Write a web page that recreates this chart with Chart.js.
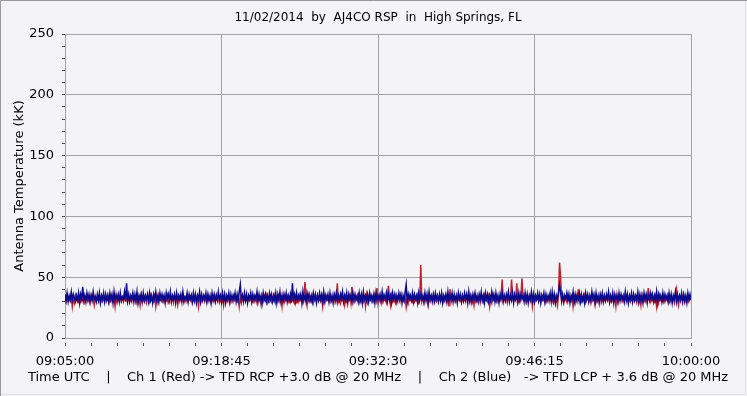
<!DOCTYPE html>
<html>
<head>
<meta charset="utf-8">
<script src="https://cdn.jsdelivr.net/npm/chart.js@4"></script>
<style>
  html, body { margin: 0; padding: 0; background: #f4f4f6; }
  #wrap { width: 747px; height: 396px; }
</style>
</head>
<body>
<div id="wrap"><canvas id="chart" width="747" height="396"></canvas></div>
<script>
// Radio telescope strip chart - two channels of antenna temperature (kK)

const chartTitle = "11/02/2014  by  AJ4CO RSP  in  High Springs, FL";
const yTitle = "Antenna Temperature (kK)";
const xTitle = "Time UTC    |    Ch 1 (Red) -> TFD RCP +3.0 dB @ 20 MHz    |    Ch 2 (Blue)   -> TFD LCP + 3.6 dB @ 20 MHz";

// x tick labels (seconds after 09:05:00)
const timeLabels = ["09:05:00", "09:18:45", "09:32:30", "09:46:15", "10:00:00"];
const timeTicks = [0, 825, 1650, 2475, 3300];
const sampleStep = 5.5; // seconds between samples

// Ch 2 (Blue) - LCP
const ch2Blue = [
  36,31,37,30,35,32,38,31,36,33,30,35,31,37,29,36,32,42,31,35,
  30,37,32,36,30,35,31,38,32,34,30,36,31,37,29,35,32,37,30,36,
  31,35,30,37,32,36,29,38,31,35,32,36,30,37,31,34,32,38,30,45,
  31,36,30,35,32,37,30,36,31,38,29,35,32,36,30,37,31,35,32,36,
  30,37,31,35,29,36,32,38,31,35,30,37,32,36,31,35,29,37,32,36,
  31,38,30,35,32,36,29,37,31,35,32,36,30,38,31,34,32,37,30,36,
  32,35,30,37,31,36,29,35,32,38,30,36,31,35,32,37,30,36,31,35,
  29,37,32,36,30,35,31,38,32,35,30,37,31,36,29,35,32,37,30,36,
  31,35,32,37,30,36,31,38,44,32,35,30,37,31,36,29,35,32,37,30,
  36,31,35,32,38,30,36,31,35,29,37,32,36,30,35,31,37,32,36,30,
  35,31,37,29,36,32,38,30,35,31,36,32,37,30,35,31,36,29,45,32,
  36,30,37,31,35,32,36,29,38,31,35,30,37,32,36,31,35,30,37,32,
  36,29,35,31,37,32,36,30,38,31,35,32,36,30,37,31,35,29,36,32,
  37,30,35,31,36,32,38,30,35,31,37,29,36,32,35,30,37,31,36,32,
  35,30,37,31,36,29,38,32,35,31,36,30,37,32,35,31,36,29,37,31,
  35,32,36,30,38,31,35,32,37,30,36,31,35,29,37,32,36,30,35,31,
  37,32,36,29,35,31,38,44,30,36,32,35,31,37,30,36,32,35,29,37,
  31,36,32,35,30,37,31,36,29,38,32,35,30,36,31,37,32,35,30,36,
  31,37,29,35,32,36,30,38,31,35,32,37,30,36,31,35,29,37,32,36,
  30,35,31,37,32,36,29,38,31,35,30,36,32,37,31,35,30,36,32,38,
  31,35,29,37,32,36,30,35,31,38,32,36,30,37,31,35,29,36,32,37,
  30,35,31,36,32,38,30,35,31,37,29,36,32,35,30,37,31,36,32,35,
  30,37,31,36,29,35,32,38,31,36,30,35,32,37,31,36,29,35,32,37,
  30,36,31,35,32,37,30,38,31,36,29,35,32,37,44,38,31,36,30,35,
  32,37,31,36,29,35,32,38,30,36,31,35,32,37,30,36,31,35,29,37,
  32,36,30,35,31,38,32,36,30,37,31,35,29,36,32,37,30,35,31,36,
  32,38,30,35,31,37,29,36,32,35,30,37,31,36,32,35,30,38,31,36,
  29,35,32,37,30,36,31,35,32,38,30,36,31,35,29,37,32,36,30,35,
  31,37,32,36,30,35,31,38,29,36,32,35,30,37,31,36,32,35,30,37,
  31,36,29,35,32,38,30,36,31,35,32,37,30,36,31,35,29,37,32,36,
  31
];

// Ch 1 (Red) - RCP
const ch1Red = [
  33,30,35,31,32,30,34,26,33,29,35,31,32,30,34,30,33,31,35,29,
  31,34,30,33,29,35,31,32,27,34,30,33,31,35,29,32,30,34,30,33,
  31,35,29,32,30,34,30,33,26,35,29,32,31,34,30,33,30,35,31,32,
  29,34,30,33,30,35,31,32,29,34,29,33,27,35,30,32,30,34,29,33,
  33,30,35,31,32,30,34,26,33,29,35,31,32,30,34,30,33,31,35,29,
  31,34,30,33,29,35,31,32,27,34,30,33,31,35,29,32,30,34,30,33,
  31,35,29,32,30,34,30,33,26,35,29,32,31,34,30,33,30,35,31,32,
  29,34,30,33,30,35,31,32,29,34,29,33,27,35,30,32,30,34,29,33,
  33,30,35,31,32,30,34,26,33,29,35,31,32,30,34,30,33,31,35,29,
  31,34,30,33,29,35,31,32,27,34,30,33,31,35,29,32,30,34,30,33,
  31,35,29,32,30,34,30,33,26,35,29,32,31,34,30,33,30,35,31,32,
  29,34,30,33,30,35,31,32,29,34,46,33,27,35,30,32,30,34,29,33,
  33,30,35,31,32,30,34,26,33,29,35,31,32,30,34,30,33,31,35,29,
  31,45,30,33,29,35,31,32,27,34,30,33,31,35,29,42,30,34,30,33,
  31,35,29,32,30,34,30,33,26,35,29,32,31,34,30,33,30,35,31,41,
  29,34,30,33,30,35,31,32,29,34,43,33,27,35,30,32,30,34,29,33,
  33,30,35,31,32,30,34,26,33,29,35,31,32,30,34,30,33,31,35,29,
  31,60,30,33,29,35,31,32,27,34,30,33,31,35,29,32,30,34,30,33,
  31,35,29,32,30,34,30,33,26,40,29,32,31,34,30,33,30,35,31,32,
  29,34,30,33,30,35,31,32,29,34,29,33,27,35,30,32,30,34,29,33,
  33,30,35,31,32,30,34,26,33,29,35,31,32,30,34,30,33,31,35,48,
  31,34,30,33,29,35,31,32,48,34,30,33,31,45,29,32,30,34,49,33,
  31,35,29,32,30,34,30,33,26,35,29,32,31,34,30,33,30,35,31,32,
  29,34,30,33,30,35,31,32,29,34,29,33,27,35,62,50,30,34,29,33,
  33,30,35,31,32,30,34,26,33,29,35,31,40,30,34,30,33,31,35,29,
  31,34,30,33,29,35,31,32,27,34,30,33,31,35,29,32,30,34,30,33,
  31,35,29,32,30,34,30,33,26,35,29,32,31,34,30,33,30,35,31,32,
  29,34,30,33,30,35,31,32,29,34,29,33,27,35,30,32,30,34,29,41,
  33,30,35,31,32,30,34,26,33,29,35,31,32,30,34,30,33,31,35,29,
  31,34,30,33,29,35,40,32,27,34,30,33,31,35,29,32,30,34,30,33,
  32
];

const bgColor = "#f4f4f6";
const gridColor = "#a3a3a3";
const fontFamily = "'DejaVu Sans', Verdana, sans-serif";

function toPoints(values) {
  return values.map((v, i) => ({ x: i * sampleStep, y: v }));
}

// minor x ticks: 5 between each labelled time
const xTickValues = [];
for (let k = 0; k <= 24; k++) xTickValues.push(k * 137.5);

// frame, background, chart title and the x caption line
const framePlugin = {
  id: "frame",
  beforeDraw(chart) {
    const ctx = chart.ctx;
    ctx.save();
    ctx.fillStyle = bgColor;
    ctx.fillRect(0, 0, chart.width, chart.height);
    ctx.strokeStyle = "#9a9a9a";
    ctx.lineWidth = 1;
    ctx.beginPath();
    ctx.moveTo(0.5, chart.height);
    ctx.lineTo(0.5, 0.5);
    ctx.lineTo(chart.width, 0.5);
    ctx.stroke();
    ctx.strokeStyle = "#e2e2e4";
    ctx.beginPath();
    ctx.moveTo(1, chart.height - 1.5);
    ctx.lineTo(chart.width - 1.5, chart.height - 1.5);
    ctx.lineTo(chart.width - 1.5, 1);
    ctx.stroke();
    ctx.restore();
  },
  afterDraw(chart) {
    const ctx = chart.ctx;
    const area = chart.chartArea;
    const cx = (area.left + area.right) / 2;
    ctx.save();
    ctx.fillStyle = "#000";
    ctx.textAlign = "center";
    ctx.textBaseline = "middle";
    ctx.font = "12px " + fontFamily;
    ctx.fillText(chartTitle, cx, 18);
    ctx.font = "13px " + fontFamily;
    ctx.fillText(xTitle, cx, 378);
    ctx.restore();
  }
};

new Chart(document.getElementById("chart"), {
  type: "line",
  data: {
    datasets: [
      {
        label: "Ch 2 (Blue)",
        data: toPoints(ch2Blue),
        borderColor: "#0a0a8c",
        borderWidth: 1.5,
        pointRadius: 0,
        tension: 0
      },
      {
        label: "Ch 1 (Red)",
        data: toPoints(ch1Red),
        borderColor: "#c41e2e",
        borderWidth: 1.5,
        pointRadius: 0,
        tension: 0
      }
    ]
  },
  options: {
    responsive: false,
    animation: false,
    events: [],
    layout: { padding: { left: 0, right: 56, top: 34, bottom: 0 } },
    plugins: {
      legend: { display: false },
      tooltip: { enabled: false },
      title: { display: false }
    },
    scales: {
      x: {
        type: "linear",
        min: 0,
        max: 3300,
        afterBuildTicks(scale) {
          scale.ticks = xTickValues.map(v => ({ value: v }));
        },
        afterFit(scale) { scale.height = 58; },
        ticks: {
          autoSkip: false,
          maxRotation: 0,
          padding: 8,
          color: "#000",
          font: { family: fontFamily, size: 13 },
          callback(value) {
            const idx = timeTicks.indexOf(value);
            return idx >= 0 ? timeLabels[idx] : "";
          }
        },
        grid: {
          color: ctx => (ctx.tick && timeTicks.includes(ctx.tick.value)) ? gridColor : "rgba(0,0,0,0)",
          tickColor: "#555",
          tickLength: 8,
          tickBorderDash: [0, 4, 4, 100]
        },
        border: { color: gridColor },
        title: { display: false }
      },
      y: {
        min: 0,
        max: 250,
        afterFit(scale) { scale.width = 65; },
        ticks: {
          stepSize: 10,
          autoSkip: false,
          padding: 3,
          color: "#000",
          font: { family: fontFamily, size: 13 },
          callback: v => (v % 50 === 0 ? v : "")
        },
        grid: {
          color: ctx => (ctx.tick && ctx.tick.value % 50 === 0) ? gridColor : "rgba(0,0,0,0)",
          tickColor: "#555",
          tickLength: 8,
          tickBorderDash: [0, 5, 3, 100]
        },
        border: { color: gridColor },
        title: {
          display: true,
          text: yTitle,
          color: "#000",
          font: { family: fontFamily, size: 13 },
          padding: { top: 12, bottom: 0 }
        }
      }
    }
  },
  plugins: [framePlugin]
});
</script>
</body>
</html>
